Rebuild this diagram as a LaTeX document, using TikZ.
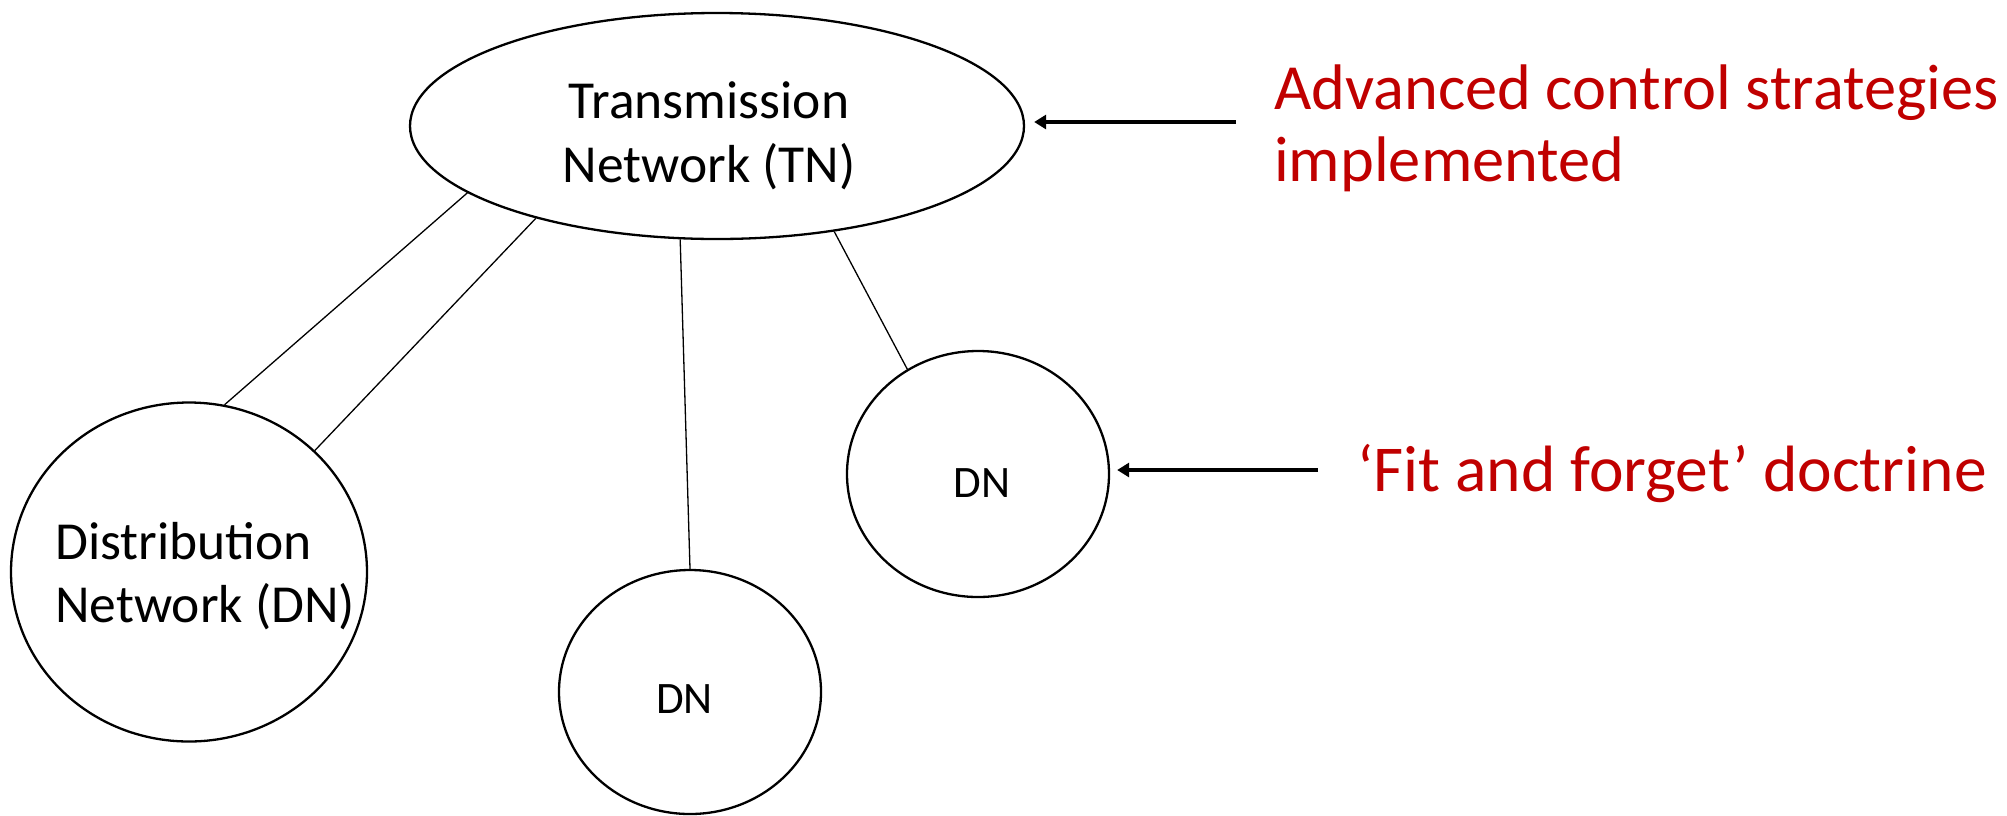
\documentclass[tikz,border=0pt]{standalone}
\usepackage{fontspec}
\setmainfont{Carlito}
\usetikzlibrary{shapes.geometric,arrows.meta}
\definecolor{darkred}{RGB}{192,0,0}
\begin{document}
\begin{tikzpicture}[x=1pt,y=-1pt,
  netshape/.style={ellipse,draw,line width=2.3pt,inner sep=0pt},
  label text/.style={inner sep=0pt},
  link/.style={line width=1.3pt},
  pointer/.style={line width=3.2pt,-{Triangle[length=12pt,width=14pt]}},
  note/.style={text=darkred,inner sep=0pt}]
\useasboundingbox (0,0) rectangle (2007,815);
% shapes
\node[netshape,minimum width=614pt,minimum height=226pt] (tn) at (717,126) {};
\node[netshape,minimum width=356pt,minimum height=339pt] (dnbig) at (189,572) {};
\node[netshape,minimum width=262pt,minimum height=244pt] (dnmid) at (690,692) {};
\node[netshape,minimum width=262pt,minimum height=246pt] (dnright) at (978,474) {};
% texts
\node[label text,anchor=base,align=center,font=\fontsize{53.5}{64}\selectfont] (tntext) at (709,182) {Transmission\\Network (TN)};
\node[label text,anchor=base west,align=left,font=\fontsize{53.5}{63}\selectfont] (dnbigtext) at (55,622) {Distribution\\Network (DN)};
\node[label text,anchor=base,font=\fontsize{45}{52}\selectfont] (dnmidtext) at (684.5,713) {DN};
\node[label text,anchor=base,font=\fontsize{45}{52}\selectfont] (dnrighttext) at (982,497) {DN};
% connectors
\draw[link] (tn.195.9) -- (dnbig.78.6);
\draw[link] (tn.207.4) -- (dnbig.44.3);
\draw[link] (tn.252.2) -- (dnmid.90);
\draw[link] (tn.318) -- (dnright.124.6);
% pointers
\coordinate (t1) at (1236,122);
\coordinate (t2) at (1318,470);
\draw[pointer,shorten >=9pt] (t1) -- (t1 -| tn.east);
\draw[pointer,shorten >=7pt] (t2) -- (t2 -| dnright.east);
\node[note,anchor=base west,align=left,font=\fontsize{64.4}{72}\selectfont] (adv) at (1274,181) {Advanced control strategies\\implemented};
\node[note,anchor=base west,font=\fontsize{65.5}{72}\selectfont] (fit) at (1357,491) {‘Fit and forget’ doctrine};
\end{tikzpicture}
\end{document}
